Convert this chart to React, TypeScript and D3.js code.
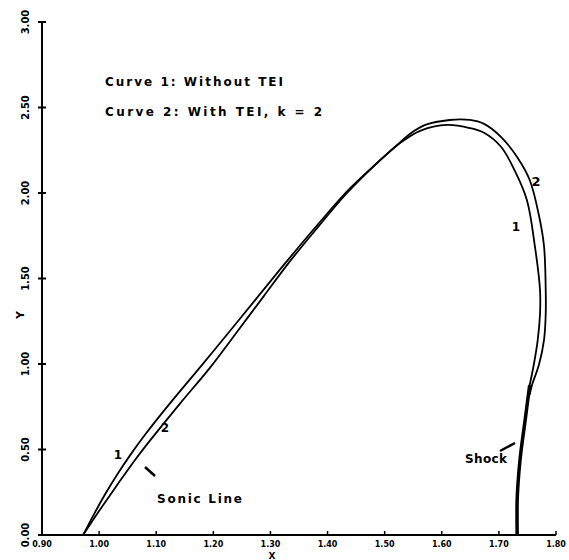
import React from "react";
import * as d3 from "d3";

const xTicks = [0.9, 1.0, 1.1, 1.2, 1.3, 1.4, 1.5, 1.6, 1.7, 1.8];
const yTicks = [0, 0.5, 1.0, 1.5, 2.0, 2.5, 3.0];

const curve1: [number, number][] = [
  [0.972, 0], [0.99, 0.115], [1.01, 0.235], [1.032, 0.355], [1.055, 0.47], [1.08, 0.585],
  [1.124, 0.77], [1.177, 0.982], [1.229, 1.193], [1.282, 1.41], [1.331, 1.61], [1.384, 1.82],
  [1.437, 2.02], [1.49, 2.185], [1.527, 2.292], [1.562, 2.363], [1.609, 2.398], [1.649, 2.38],
  [1.674, 2.352], [1.704, 2.269], [1.728, 2.129], [1.749, 1.959], [1.763, 1.69], [1.772, 1.433],
  [1.772, 1.292], [1.768, 1.14], [1.761, 0.994], [1.754, 0.877],
];

const curve2: [number, number][] = [
  [0.972, 0], [1.002, 0.15], [1.031, 0.29], [1.061, 0.43], [1.09, 0.556], [1.142, 0.77],
  [1.195, 0.982], [1.242, 1.19], [1.289, 1.4], [1.334, 1.6], [1.383, 1.8], [1.434, 2.0],
  [1.488, 2.18], [1.52, 2.275], [1.544, 2.345], [1.571, 2.398], [1.614, 2.427], [1.649, 2.427],
  [1.674, 2.404], [1.704, 2.327], [1.733, 2.205], [1.754, 2.076], [1.77, 1.871], [1.779, 1.69],
  [1.782, 1.433], [1.782, 1.292], [1.779, 1.14], [1.77, 0.994], [1.758, 0.877], [1.754, 0.82],
];

const shock: [number, number][] = [
  [1.754, 0.877], [1.746, 0.673], [1.737, 0.439], [1.732, 0.205], [1.732, 0],
];

const legendLines = ["Curve 1:  Without TEI", "Curve 2:  With TEI, k = 2"];

export default function App() {
  const W = 569, H = 560;
  const x = d3.scaleLinear().domain([0.9, 1.8]).range([42, 556]);
  const y = d3.scaleLinear().domain([0, 3]).range([535, 22]);
  const line = d3.line<[number, number]>().x(d => x(d[0])).y(d => y(d[1])).curve(d3.curveCatmullRom.alpha(0.5));
  const font = "'DejaVu Sans', sans-serif";
  return (
    <svg width={W} height={H} style={{ position: "absolute", left: 0, top: 0, background: "#fff" }}>
      <rect width={W} height={H} fill="#fff" />
      {/* axes */}
      <line x1={x(0.9)} x2={x(0.9)} y1={y(0)} y2={y(3)} stroke="#000" strokeWidth={2} />
      <line x1={x(0.9)} x2={x(1.8)} y1={y(0)} y2={y(0)} stroke="#000" strokeWidth={2} />
      {yTicks.map(t => (
        <g key={"y" + t}>
          <line x1={x(0.9) - 4} x2={x(0.9) + 4} y1={y(t)} y2={y(t)} stroke="#000" strokeWidth={2} />
          <text transform={`translate(${29},${y(t)}) rotate(-90)`} textAnchor="middle" fontFamily={font}
            fontWeight="bold" fontSize={10}>{t.toFixed(2)}</text>
        </g>
      ))}
      {xTicks.map(t => (
        <g key={"x" + t}>
          <line x1={x(t)} x2={x(t)} y1={y(0)} y2={y(0) - 4} stroke="#000" strokeWidth={1.5} />
          <text x={x(t)} y={y(0) + 12} textAnchor="middle" fontFamily={font} fontWeight="bold" fontSize={8}>
            {t.toFixed(2)}
          </text>
        </g>
      ))}
      <text x={272} y={559} textAnchor="middle" fontFamily={font} fontWeight="bold" fontSize={9}>X</text>
      <text transform="translate(24,315) rotate(-90)" textAnchor="middle" fontFamily={font} fontWeight="bold"
        fontSize={11}>Y</text>
      {/* curves */}
      <path d={line(curve1) || ""} fill="none" stroke="#000" strokeWidth={1.8} />
      <path d={line(curve2) || ""} fill="none" stroke="#000" strokeWidth={1.8} />
      <path d={line(shock) || ""} fill="none" stroke="#000" strokeWidth={3.5} />
      {/* legend */}
      <text x={105} y={86} fontFamily={font} fontWeight="bold" fontSize={12} textLength={178}
        lengthAdjust="spacing">{legendLines[0]}</text>
      <text x={105} y={116} fontFamily={font} fontWeight="bold" fontSize={12} textLength={217}
        lengthAdjust="spacing">{legendLines[1]}</text>
      {/* curve labels */}
      <text x={118} y={459} fontFamily={font} fontWeight="bold" fontSize={12} textAnchor="middle">1</text>
      <text x={165} y={432} fontFamily={font} fontWeight="bold" fontSize={12} textAnchor="middle">2</text>
      <text x={516} y={231} fontFamily={font} fontWeight="bold" fontSize={12} textAnchor="middle">1</text>
      <text x={536} y={186} fontFamily={font} fontWeight="bold" fontSize={13} textAnchor="middle">2</text>
      <line x1={145} y1={467} x2={155} y2={476} stroke="#000" strokeWidth={2.5} />
      <text x={157} y={503} fontFamily={font} fontWeight="bold" fontSize={12} textLength={85}
        lengthAdjust="spacing">Sonic Line</text>
      <line x1={500} y1={451} x2={515} y2={443} stroke="#000" strokeWidth={2.5} />
      <text x={465} y={463} fontFamily={font} fontWeight="bold" fontSize={12} textLength={42}
        lengthAdjust="spacing">Shock</text>
    </svg>
  );
}
